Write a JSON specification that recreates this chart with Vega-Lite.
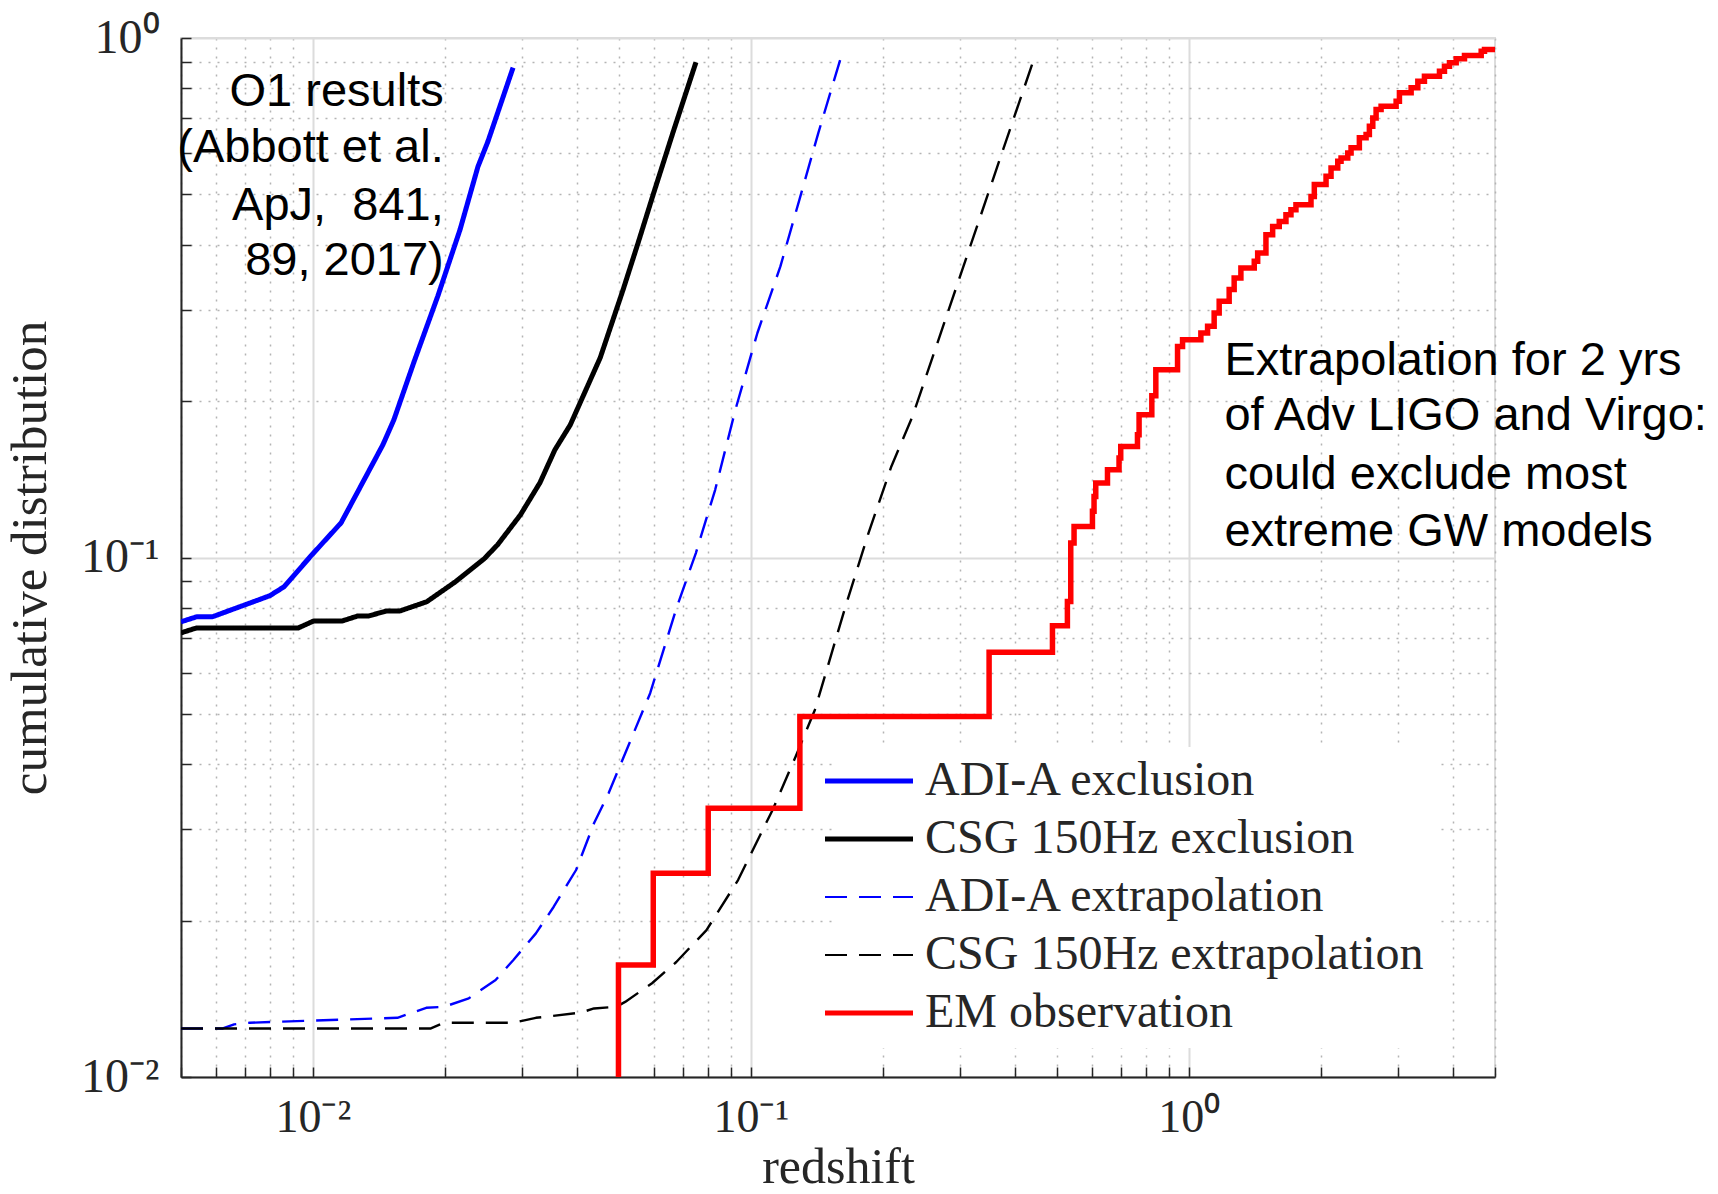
{
  "$schema": "https://vega.github.io/schema/vega-lite/v6.json",
  "width": 1314,
  "height": 1039,
  "autosize": {"type": "none"},
  "padding": {"left": 181, "top": 38, "right": 223, "bottom": 117},
  "background": "white",
  "config": {
    "view": {"stroke": "#dcdcdc", "strokeWidth": 2},
    "legend": {
      "orient": "none",
      "legendX": 654,
      "legendY": 709,
      "title": null,
      "labelFont": "Liberation Serif",
      "labelFontSize": 48,
      "labelColor": "#262626",
      "labelLimit": 0,
      "symbolType": "M-2.2,0H2.2",
      "symbolSize": 1600,
      "symbolStrokeWidth": 4,
      "labelOffset": 32,
      "rowPadding": 10,
      "padding": 10,
      "fillColor": "white",
      "strokeColor": "white"
    }
  },
  "datasets": {
    "solid": [
      {"series": "ADI-A exclusion", "z": 0.005, "cdf": 0.0752},
      {"series": "ADI-A exclusion", "z": 0.00543, "cdf": 0.0769},
      {"series": "ADI-A exclusion", "z": 0.0059, "cdf": 0.0769},
      {"series": "ADI-A exclusion", "z": 0.00797, "cdf": 0.0844},
      {"series": "ADI-A exclusion", "z": 0.00859, "cdf": 0.0878},
      {"series": "ADI-A exclusion", "z": 0.00995, "cdf": 0.1012},
      {"series": "ADI-A exclusion", "z": 0.0116, "cdf": 0.1166},
      {"series": "ADI-A exclusion", "z": 0.01445, "cdf": 0.1648},
      {"series": "ADI-A exclusion", "z": 0.01531, "cdf": 0.1841},
      {"series": "ADI-A exclusion", "z": 0.01702, "cdf": 0.238},
      {"series": "ADI-A exclusion", "z": 0.0193, "cdf": 0.319},
      {"series": "ADI-A exclusion", "z": 0.02168, "cdf": 0.4277},
      {"series": "ADI-A exclusion", "z": 0.02382, "cdf": 0.5655},
      {"series": "ADI-A exclusion", "z": 0.0251, "cdf": 0.632},
      {"series": "ADI-A exclusion", "z": 0.02865, "cdf": 0.877},
      {"series": "CSG 150Hz exclusion", "z": 0.005, "cdf": 0.0716},
      {"series": "CSG 150Hz exclusion", "z": 0.00543, "cdf": 0.0732},
      {"series": "CSG 150Hz exclusion", "z": 0.00927, "cdf": 0.0732},
      {"series": "CSG 150Hz exclusion", "z": 0.01005, "cdf": 0.0755},
      {"series": "CSG 150Hz exclusion", "z": 0.01168, "cdf": 0.0755},
      {"series": "CSG 150Hz exclusion", "z": 0.01268, "cdf": 0.0772},
      {"series": "CSG 150Hz exclusion", "z": 0.01343, "cdf": 0.0772},
      {"series": "CSG 150Hz exclusion", "z": 0.01472, "cdf": 0.0789},
      {"series": "CSG 150Hz exclusion", "z": 0.0158, "cdf": 0.0789},
      {"series": "CSG 150Hz exclusion", "z": 0.0182, "cdf": 0.0822},
      {"series": "CSG 150Hz exclusion", "z": 0.02116, "cdf": 0.0898},
      {"series": "CSG 150Hz exclusion", "z": 0.0246, "cdf": 0.0994},
      {"series": "CSG 150Hz exclusion", "z": 0.02641, "cdf": 0.1058},
      {"series": "CSG 150Hz exclusion", "z": 0.0298, "cdf": 0.1209},
      {"series": "CSG 150Hz exclusion", "z": 0.033, "cdf": 0.1393},
      {"series": "CSG 150Hz exclusion", "z": 0.0357, "cdf": 0.1612},
      {"series": "CSG 150Hz exclusion", "z": 0.0387, "cdf": 0.18},
      {"series": "CSG 150Hz exclusion", "z": 0.0453, "cdf": 0.2424},
      {"series": "CSG 150Hz exclusion", "z": 0.0511, "cdf": 0.3279},
      {"series": "CSG 150Hz exclusion", "z": 0.0553, "cdf": 0.4037},
      {"series": "CSG 150Hz exclusion", "z": 0.06004, "cdf": 0.504},
      {"series": "CSG 150Hz exclusion", "z": 0.0664, "cdf": 0.6577},
      {"series": "CSG 150Hz exclusion", "z": 0.07493, "cdf": 0.898}
    ],
    "dashed": [
      {"series": "ADI-A extrapolation", "z": 0.005, "cdf": 0.0124},
      {"series": "ADI-A extrapolation", "z": 0.00623, "cdf": 0.0124},
      {"series": "ADI-A extrapolation", "z": 0.00661, "cdf": 0.01263},
      {"series": "ADI-A extrapolation", "z": 0.00718, "cdf": 0.01272},
      {"series": "ADI-A extrapolation", "z": 0.0156, "cdf": 0.013},
      {"series": "ADI-A extrapolation", "z": 0.01815, "cdf": 0.01359},
      {"series": "ADI-A extrapolation", "z": 0.01993, "cdf": 0.01365},
      {"series": "ADI-A extrapolation", "z": 0.0227, "cdf": 0.01417},
      {"series": "ADI-A extrapolation", "z": 0.02614, "cdf": 0.01537},
      {"series": "ADI-A extrapolation", "z": 0.0287, "cdf": 0.0168},
      {"series": "ADI-A extrapolation", "z": 0.0323, "cdf": 0.0189},
      {"series": "ADI-A extrapolation", "z": 0.03548, "cdf": 0.02127},
      {"series": "ADI-A extrapolation", "z": 0.0399, "cdf": 0.02503},
      {"series": "ADI-A extrapolation", "z": 0.04384, "cdf": 0.03079},
      {"series": "ADI-A extrapolation", "z": 0.04736, "cdf": 0.0352},
      {"series": "ADI-A extrapolation", "z": 0.0589, "cdf": 0.0548},
      {"series": "ADI-A extrapolation", "z": 0.0678, "cdf": 0.0804},
      {"series": "ADI-A extrapolation", "z": 0.0749, "cdf": 0.102},
      {"series": "ADI-A extrapolation", "z": 0.0829, "cdf": 0.135},
      {"series": "ADI-A extrapolation", "z": 0.0922, "cdf": 0.1925},
      {"series": "ADI-A extrapolation", "z": 0.1035, "cdf": 0.2705},
      {"series": "ADI-A extrapolation", "z": 0.1168, "cdf": 0.3634},
      {"series": "ADI-A extrapolation", "z": 0.1291, "cdf": 0.4886},
      {"series": "ADI-A extrapolation", "z": 0.1426, "cdf": 0.6568},
      {"series": "ADI-A extrapolation", "z": 0.1618, "cdf": 0.938},
      {"series": "CSG 150Hz extrapolation", "z": 0.005, "cdf": 0.0124},
      {"series": "CSG 150Hz extrapolation", "z": 0.0186, "cdf": 0.0124},
      {"series": "CSG 150Hz extrapolation", "z": 0.01993, "cdf": 0.01272},
      {"series": "CSG 150Hz extrapolation", "z": 0.0287, "cdf": 0.01272},
      {"series": "CSG 150Hz extrapolation", "z": 0.0323, "cdf": 0.013},
      {"series": "CSG 150Hz extrapolation", "z": 0.04086, "cdf": 0.0133},
      {"series": "CSG 150Hz extrapolation", "z": 0.04384, "cdf": 0.01355},
      {"series": "CSG 150Hz extrapolation", "z": 0.04928, "cdf": 0.01365},
      {"series": "CSG 150Hz extrapolation", "z": 0.05164, "cdf": 0.01395},
      {"series": "CSG 150Hz extrapolation", "z": 0.05948, "cdf": 0.01515},
      {"series": "CSG 150Hz extrapolation", "z": 0.06758, "cdf": 0.01665},
      {"series": "CSG 150Hz extrapolation", "z": 0.0792, "cdf": 0.01918},
      {"series": "CSG 150Hz extrapolation", "z": 0.0935, "cdf": 0.02394},
      {"series": "CSG 150Hz extrapolation", "z": 0.1121, "cdf": 0.03266},
      {"series": "CSG 150Hz extrapolation", "z": 0.1265, "cdf": 0.04136},
      {"series": "CSG 150Hz extrapolation", "z": 0.14, "cdf": 0.05088},
      {"series": "CSG 150Hz extrapolation", "z": 0.1644, "cdf": 0.0804},
      {"series": "CSG 150Hz extrapolation", "z": 0.1856, "cdf": 0.1114},
      {"series": "CSG 150Hz extrapolation", "z": 0.2093, "cdf": 0.1497},
      {"series": "CSG 150Hz extrapolation", "z": 0.2339, "cdf": 0.1869},
      {"series": "CSG 150Hz extrapolation", "z": 0.2977, "cdf": 0.3402},
      {"series": "CSG 150Hz extrapolation", "z": 0.3831, "cdf": 0.6361},
      {"series": "CSG 150Hz extrapolation", "z": 0.4412, "cdf": 0.9022}
    ],
    "em": [
      {"series": "EM observation", "z": 0.0498, "cdf": 0.009},
      {"series": "EM observation", "z": 0.04986, "cdf": 0.01643},
      {"series": "EM observation", "z": 0.05987, "cdf": 0.02467},
      {"series": "EM observation", "z": 0.07992, "cdf": 0.03292},
      {"series": "EM observation", "z": 0.1294, "cdf": 0.0494},
      {"series": "EM observation", "z": 0.3499, "cdf": 0.06573},
      {"series": "EM observation", "z": 0.4882, "cdf": 0.07386},
      {"series": "EM observation", "z": 0.5281, "cdf": 0.08228},
      {"series": "EM observation", "z": 0.5375, "cdf": 0.1066},
      {"series": "EM observation", "z": 0.5469, "cdf": 0.1147},
      {"series": "EM observation", "z": 0.6024, "cdf": 0.1227},
      {"series": "EM observation", "z": 0.6075, "cdf": 0.1311},
      {"series": "EM observation", "z": 0.613, "cdf": 0.1391},
      {"series": "EM observation", "z": 0.652, "cdf": 0.1475},
      {"series": "EM observation", "z": 0.6928, "cdf": 0.1554},
      {"series": "EM observation", "z": 0.699, "cdf": 0.1636},
      {"series": "EM observation", "z": 0.7633, "cdf": 0.1723},
      {"series": "EM observation", "z": 0.7698, "cdf": 0.1883},
      {"series": "EM observation", "z": 0.8231, "cdf": 0.2048},
      {"series": "EM observation", "z": 0.8406, "cdf": 0.2299},
      {"series": "EM observation", "z": 0.9423, "cdf": 0.2549},
      {"series": "EM observation", "z": 0.9674, "cdf": 0.2626},
      {"series": "EM observation", "z": 1.0652, "cdf": 0.2705},
      {"series": "EM observation", "z": 1.1035, "cdf": 0.2786},
      {"series": "EM observation", "z": 1.1423, "cdf": 0.2956},
      {"series": "EM observation", "z": 1.1729, "cdf": 0.3112},
      {"series": "EM observation", "z": 1.2361, "cdf": 0.3279},
      {"series": "EM observation", "z": 1.269, "cdf": 0.3452},
      {"series": "EM observation", "z": 1.3147, "cdf": 0.3609},
      {"series": "EM observation", "z": 1.4104, "cdf": 0.3716},
      {"series": "EM observation", "z": 1.4359, "cdf": 0.3857},
      {"series": "EM observation", "z": 1.4997, "cdf": 0.4182},
      {"series": "EM observation", "z": 1.5535, "cdf": 0.4339},
      {"series": "EM observation", "z": 1.6084, "cdf": 0.4436},
      {"series": "EM observation", "z": 1.6661, "cdf": 0.457},
      {"series": "EM observation", "z": 1.7105, "cdf": 0.4672},
      {"series": "EM observation", "z": 1.756, "cdf": 0.4777},
      {"series": "EM observation", "z": 1.9006, "cdf": 0.4956},
      {"series": "EM observation", "z": 1.9339, "cdf": 0.5222},
      {"series": "EM observation", "z": 2.057, "cdf": 0.5418},
      {"series": "EM observation", "z": 2.1117, "cdf": 0.5623},
      {"series": "EM observation", "z": 2.1875, "cdf": 0.579},
      {"series": "EM observation", "z": 2.2258, "cdf": 0.5878},
      {"series": "EM observation", "z": 2.3056, "cdf": 0.601},
      {"series": "EM observation", "z": 2.346, "cdf": 0.6145},
      {"series": "EM observation", "z": 2.4508, "cdf": 0.6424},
      {"series": "EM observation", "z": 2.5387, "cdf": 0.6519},
      {"series": "EM observation", "z": 2.5832, "cdf": 0.6764},
      {"series": "EM observation", "z": 2.63, "cdf": 0.7018},
      {"series": "EM observation", "z": 2.6761, "cdf": 0.7282},
      {"series": "EM observation", "z": 2.7473, "cdf": 0.739},
      {"series": "EM observation", "z": 2.9732, "cdf": 0.7556},
      {"series": "EM observation", "z": 3.0253, "cdf": 0.7843},
      {"series": "EM observation", "z": 3.2172, "cdf": 0.8021},
      {"series": "EM observation", "z": 3.3326, "cdf": 0.8257},
      {"series": "EM observation", "z": 3.4504, "cdf": 0.8441},
      {"series": "EM observation", "z": 3.734, "cdf": 0.8631},
      {"series": "EM observation", "z": 3.8335, "cdf": 0.8825},
      {"series": "EM observation", "z": 3.9358, "cdf": 0.8959},
      {"series": "EM observation", "z": 4.077, "cdf": 0.912},
      {"series": "EM observation", "z": 4.259, "cdf": 0.9254},
      {"series": "EM observation", "z": 4.65, "cdf": 0.9432},
      {"series": "EM observation", "z": 4.7315, "cdf": 0.9503},
      {"series": "EM observation", "z": 5.0, "cdf": 0.9503}
    ],
    "notesLeft": [
      {"z": 0.0199, "cdf": 0.7413, "label": "O1 results"},
      {"z": 0.0199, "cdf": 0.5775, "label": "(Abbott et al."},
      {"z": 0.0199, "cdf": 0.447, "label": "ApJ,\u00a0 841,"},
      {"z": 0.0199, "cdf": 0.3503, "label": "89, 2017)"}
    ],
    "notesRight": [
      {"z": 1.2055, "cdf": 0.2248, "label": "Extrapolation for 2 yrs"},
      {"z": 1.2055, "cdf": 0.1759, "label": "of Adv LIGO and Virgo:"},
      {"z": 1.2055, "cdf": 0.1354, "label": "could exclude most"},
      {"z": 1.2055, "cdf": 0.1051, "label": "extreme GW models"}
    ]
  },
  "layer": [
    {
      "data": {"name": "solid"},
      "mark": {"type": "line", "clip": true, "strokeJoin": "round", "strokeWidth": 5},
      "encoding": {
        "x": {
          "field": "z", "type": "quantitative",
          "scale": {"type": "log", "domain": [0.005, 5], "nice": false},
          "axis": {
            "values": [0.005, 0.006, 0.007, 0.008, 0.009, 0.01, 0.02, 0.03, 0.04, 0.05, 0.06, 0.07, 0.08, 0.09, 0.1, 0.2, 0.3, 0.4, 0.5, 0.6, 0.7, 0.8, 0.9, 1, 2, 3, 4, 5],
            "labelExpr": "datum.value == 0.01 ? '10⁻²' : datum.value == 0.1 ? '10⁻¹' : datum.value == 1 ? '10⁰' : ''",
            "title": "redshift",
            "orient": "bottom",
            "grid": true,
            "gridColor": {"condition": {"test": "datum.value == 0.01 || datum.value == 0.1 || datum.value == 1", "value": "#dcdcdc"}, "value": "#b4b4b4"},
            "gridDash": {"condition": {"test": "datum.value == 0.01 || datum.value == 0.1 || datum.value == 1", "value": []}, "value": [2, 7]},
            "gridWidth": {"condition": {"test": "datum.value == 0.01 || datum.value == 0.1 || datum.value == 1", "value": 2}, "value": 1.5},
            "domainColor": "#262626", "domainWidth": 2,
            "tickColor": "#262626", "tickWidth": 1.5, "tickSize": -10,
            "labelFont": "Liberation Serif", "labelFontSize": 46, "labelColor": "#262626",
            "labelPadding": 28, "labelOverlap": false, "labelFlush": false, "labelBound": false,
            "titleFont": "Liberation Serif", "titleFontSize": 50, "titleFontWeight": "normal", "titleColor": "#262626",
            "titlePadding": 2
          }
        },
        "y": {
          "field": "cdf", "type": "quantitative",
          "scale": {"type": "log", "domain": [0.01, 1], "nice": false},
          "axis": {
            "values": [0.01, 0.02, 0.03, 0.04, 0.05, 0.06, 0.07, 0.08, 0.09, 0.1, 0.2, 0.3, 0.4, 0.5, 0.6, 0.7, 0.8, 0.9, 1],
            "labelExpr": "datum.value == 0.01 ? '10⁻²' : datum.value == 0.1 ? '10⁻¹' : datum.value == 1 ? '10⁰' : ''",
            "title": "cumulative distribution",
            "orient": "left",
            "grid": true,
            "gridColor": {"condition": {"test": "datum.value == 0.01 || datum.value == 0.1 || datum.value == 1", "value": "#dcdcdc"}, "value": "#b4b4b4"},
            "gridDash": {"condition": {"test": "datum.value == 0.01 || datum.value == 0.1 || datum.value == 1", "value": []}, "value": [2, 7]},
            "gridWidth": {"condition": {"test": "datum.value == 0.01 || datum.value == 0.1 || datum.value == 1", "value": 2}, "value": 1.5},
            "domainColor": "#262626", "domainWidth": 2,
            "tickColor": "#262626", "tickWidth": 1.5, "tickSize": -10,
            "labelFont": "Liberation Serif", "labelFontSize": 48, "labelColor": "#262626",
            "labelPadding": 32, "labelOverlap": false, "labelFlush": false, "labelBound": false,
            "titleFont": "Liberation Serif", "titleFontSize": 51, "titleFontWeight": "normal", "titleColor": "#262626",
            "titlePadding": 24
          }
        },
        "color": {
          "field": "series", "type": "nominal",
          "scale": {"domain": ["ADI-A exclusion", "CSG 150Hz exclusion", "ADI-A extrapolation", "CSG 150Hz extrapolation", "EM observation"], "range": ["#0000ff", "#000000", "#0000ff", "#000000", "#ff0000"]},
          "legend": {"encode": {"symbols": {"update": {"strokeWidth": {"signal": "indexof(datum.value + '', 'extrapolation') >= 0 ? 2.2 : 5"}}}}}
        },
        "strokeDash": {
          "field": "series", "type": "nominal",
          "scale": {"domain": ["ADI-A exclusion", "CSG 150Hz exclusion", "ADI-A extrapolation", "CSG 150Hz extrapolation", "EM observation"], "range": [[1, 0], [1, 0], [22, 12], [22, 12], [1, 0]]}
        }
      }
    },
    {
      "data": {"name": "dashed"},
      "mark": {"type": "line", "clip": true, "strokeJoin": "round", "strokeWidth": 2.4},
      "encoding": {
        "x": {"field": "z", "type": "quantitative"},
        "y": {"field": "cdf", "type": "quantitative"},
        "color": {"field": "series", "type": "nominal"},
        "strokeDash": {"field": "series", "type": "nominal"}
      }
    },
    {
      "data": {"name": "em"},
      "mark": {"type": "line", "clip": true, "interpolate": "step-after", "strokeWidth": 5.5},
      "encoding": {
        "x": {"field": "z", "type": "quantitative"},
        "y": {"field": "cdf", "type": "quantitative"},
        "color": {"field": "series", "type": "nominal"},
        "strokeDash": {"field": "series", "type": "nominal"}
      }
    },
    {
      "data": {"name": "notesLeft"},
      "mark": {"type": "text", "align": "right", "baseline": "alphabetic", "font": "Liberation Sans", "fontSize": 47, "color": "#000000"},
      "encoding": {
        "x": {"field": "z", "type": "quantitative"},
        "y": {"field": "cdf", "type": "quantitative"},
        "text": {"field": "label"}
      }
    },
    {
      "data": {"name": "notesRight"},
      "mark": {"type": "text", "align": "left", "baseline": "alphabetic", "font": "Liberation Sans", "fontSize": 47, "color": "#000000"},
      "encoding": {
        "x": {"field": "z", "type": "quantitative"},
        "y": {"field": "cdf", "type": "quantitative"},
        "text": {"field": "label"}
      }
    }
  ]
}
